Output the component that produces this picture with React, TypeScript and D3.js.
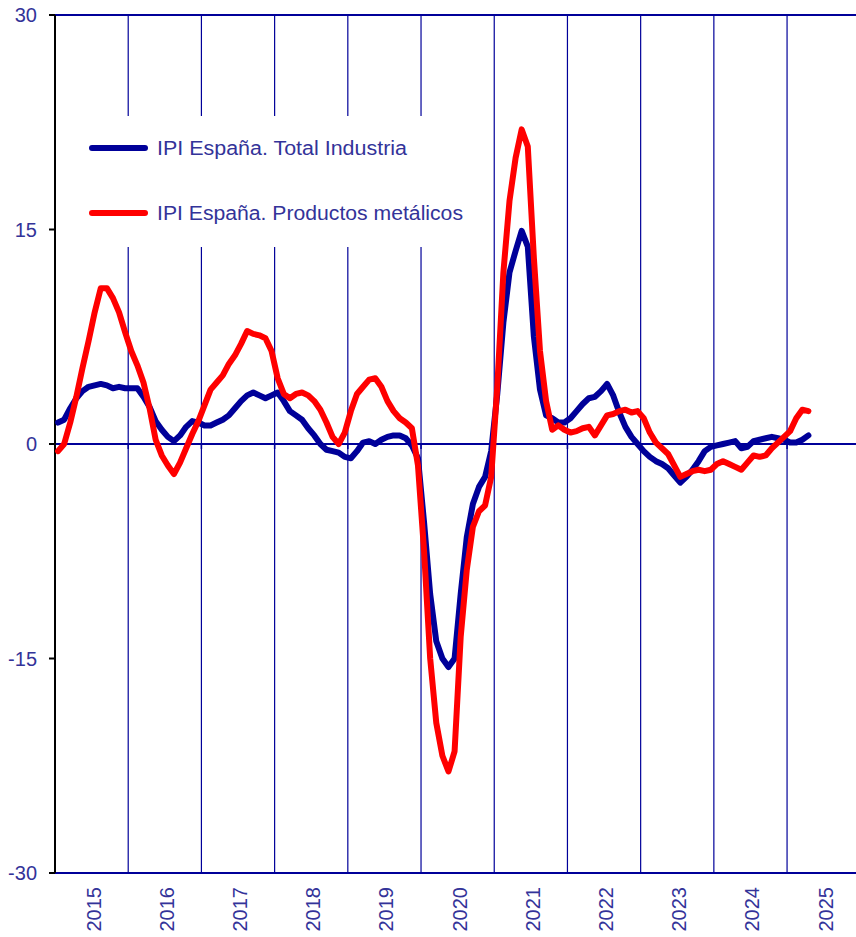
import React, { useEffect } from 'react';
import * as d3 from 'd3';

// monthly data, Jan 2015 .. Apr 2025
const years = ['2015', '2016', '2017', '2018', '2019', '2020', '2021', '2022', '2023', '2024', '2025'];
const yTicks = [30, 15, 0, -15, -30];

const totalIndustria = [
  1.5, 1.7, 2.5, 3.2, 3.7, 4.0, 4.1, 4.2, 4.1, 3.9, 4.0, 3.9,
  3.9, 3.9, 3.3, 2.6, 1.6, 1.0, 0.5, 0.2, 0.6, 1.2, 1.6, 1.5,
  1.3, 1.3, 1.5, 1.7, 2.0, 2.5, 3.0, 3.4, 3.6, 3.4, 3.2, 3.4,
  3.6, 3.0, 2.3, 2.0, 1.7, 1.1, 0.6, 0.0, -0.4, -0.5, -0.6, -0.9,
  -1.0, -0.5, 0.1, 0.2, 0.0, 0.3, 0.5, 0.6, 0.6, 0.4, -0.1, -1.0,
  -5.5, -10.5, -13.8, -15.0, -15.6, -15.0, -10.5, -6.5, -4.2, -3.0, -2.3, -0.5,
  3.5, 8.5, 12.0, 13.5, 14.9, 13.8, 7.5, 3.8, 2.0, 1.8, 1.5, 1.5,
  1.8, 2.3, 2.8, 3.2, 3.3, 3.7, 4.2, 3.4, 2.2, 1.2, 0.5, 0.0,
  -0.5, -0.9, -1.2, -1.4, -1.7, -2.2, -2.7, -2.3, -1.8, -1.2, -0.5, -0.2,
  -0.1, 0.0, 0.1, 0.2, -0.3, -0.2, 0.2, 0.3, 0.4, 0.5, 0.4, 0.3,
  0.1, 0.1, 0.3, 0.6,
];

const productosMetalicos = [
  -0.5, 0.0, 1.5, 3.3, 5.3, 7.2, 9.2, 10.9, 10.9, 10.2, 9.2, 7.8,
  6.5, 5.5, 4.3, 2.5, 0.3, -0.8, -1.5, -2.1, -1.3, -0.3, 0.7, 1.6,
  2.7, 3.8, 4.3, 4.8, 5.6, 6.2, 7.0, 7.9, 7.7, 7.6, 7.4, 6.5,
  4.6, 3.5, 3.2, 3.5, 3.6, 3.4, 3.0, 2.4, 1.5, 0.5, 0.0, 0.8,
  2.3, 3.5, 4.0, 4.5, 4.6, 4.0, 3.0, 2.3, 1.8, 1.5, 1.1, -1.5,
  -7.5, -15.0, -19.5, -21.8, -22.9, -21.5, -13.5, -8.8, -5.8, -4.7, -4.3, -2.3,
  4.0, 12.0, 17.0, 20.0, 22.0, 20.8, 13.0, 6.5, 3.0, 1.0, 1.3, 1.0,
  0.8, 0.9, 1.1, 1.2, 0.6, 1.3, 2.0, 2.1, 2.3, 2.4, 2.2, 2.3,
  1.8, 0.8, 0.1, -0.3, -0.7, -1.5, -2.3, -2.1, -1.9, -1.8, -1.9, -1.8,
  -1.4, -1.2, -1.4, -1.6, -1.8, -1.3, -0.8, -0.9, -0.8, -0.3, 0.1, 0.5,
  0.9, 1.8, 2.4, 2.3,
];

const seriesNames = ['IPI España. Total Industria', 'IPI España. Productos metálicos'];
const seriesColors = ['#000099', '#ff0000'];
const legendTextWidths = [250, 306];

const W = 856;
const H = 937;
const left = 55;
const right = 856;
const top = 15;
const bottom = 873;
const axisColor = '#000099';
const textColor = '#333399';
const font = 'Arial, "Liberation Sans", sans-serif';

const App = () => {
  useEffect(() => {
    document.body.style.margin = '0';
  }, []);

  const x = d3.scaleLinear().domain([0, 131.3]).range([left, right]);
  const y = d3.scaleLinear().domain([-30, 30]).range([bottom, top]);

  const line = d3.line<number>()
    .x((_, i) => x(i + 0.5))
    .y(d => y(d));

  const yearBounds = d3.range(1, years.length).map(k => x(k * 12));

  return (
    <svg width={W} height={H} style={{ display: 'block' }}>
      <rect width={W} height={H} fill="#fff" />
      {/* vertical year lines */}
      {yearBounds.map((xv, k) => (
        <line key={k} x1={xv} x2={xv} y1={top} y2={bottom} stroke={axisColor} strokeWidth={1.2} />
      ))}
      {/* legend background hides grid */}
      <rect x={60} y={116} width={405} height={131} fill="#fff" />
      {/* top & bottom borders */}
      <line x1={left - 6} x2={right} y1={top} y2={top} stroke={axisColor} strokeWidth={2} />
      <line x1={left - 6} x2={right} y1={bottom} y2={bottom} stroke={axisColor} strokeWidth={2} />
      {/* zero line */}
      <line x1={left - 6} x2={right} y1={y(0)} y2={y(0)} stroke={axisColor} strokeWidth={2.2} />
      {yearBounds.map((xv, k) => (
        <line key={'t' + k} x1={xv} x2={xv} y1={y(0)} y2={y(0) + 5} stroke={axisColor} strokeWidth={1.5} />
      ))}
      {/* left axis */}
      <line x1={left} x2={left} y1={top} y2={bottom} stroke="#000" strokeWidth={2} />
      {yTicks.map(t => (
        <g key={t}>
          <line x1={left - 6} x2={left} y1={y(t)} y2={y(t)} stroke="#000" strokeWidth={2} />
          <text x={37} y={y(t)} dy="0.35em" textAnchor="end" fontFamily={font} fontSize={20} fill={textColor}>
            {t}
          </text>
        </g>
      ))}
      {/* year labels */}
      {years.map((yr, k) => {
        const cx = x(k * 12 + 6);
        return (
          <text key={yr} transform={`translate(${cx + 9},887) rotate(-90)`} textAnchor="end"
            fontFamily={font} fontSize={20} fill={textColor}>
            {yr}
          </text>
        );
      })}
      {/* series */}
      {[totalIndustria, productosMetalicos].map((s, i) => (
        <path key={i} d={line(s) || ''} fill="none" stroke={seriesColors[i]} strokeWidth={6}
          strokeLinejoin="round" strokeLinecap="round" />
      ))}
      {/* legend */}
      {seriesNames.map((n, i) => (
        <g key={n} transform={`translate(0,${148 + i * 65})`}>
          <line x1={92} x2={145} y1={0} y2={0} stroke={seriesColors[i]} strokeWidth={6} strokeLinecap="round" />
          <text x={157} y={0} dy="0.35em" fontFamily={font} fontSize={20} fill={textColor}
            textLength={legendTextWidths[i]} lengthAdjust="spacingAndGlyphs">{n}</text>
        </g>
      ))}
    </svg>
  );
};

export default App;
